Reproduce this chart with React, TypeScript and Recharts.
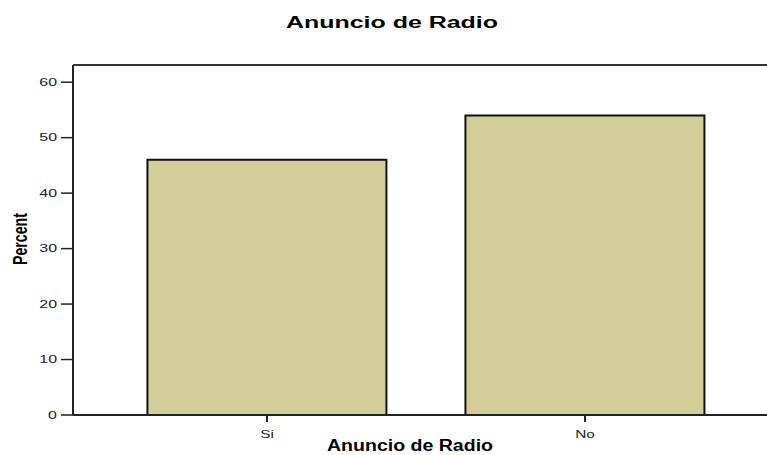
import { BarChart, Bar, XAxis, YAxis, ReferenceLine } from 'recharts';

// Frequencies for "Anuncio de Radio" (percent)
const categories = ['Si', 'No'];
const percents = [46, 54];
const yTicks = [0, 10, 20, 30, 40, 50, 60];
const yMax = 63.1;

const data = categories.map((name, i) => ({ name, percent: percents[i] }));

const FONT = '"Liberation Sans", Arial, sans-serif';

// tick labels in the original are stretched sideways, so scale them
const YTick = (props: any) => {
  const { x, y, payload } = props;
  return (
    <text
      x={0}
      y={0}
      transform={`translate(${x}, ${y}) scale(1.45, 1)`}
      textAnchor="end"
      dominantBaseline="central"
      fontFamily={FONT}
      fontSize={11}
      fill="#222"
    >
      {payload.value}
    </text>
  );
};

const XTick = (props: any) => {
  const { x, y, payload } = props;
  return (
    <text
      x={0}
      y={0}
      transform={`translate(${x}, ${y + 8}) scale(1.4, 1)`}
      textAnchor="middle"
      dominantBaseline="central"
      fontFamily={FONT}
      fontSize={11}
      fill="#222"
    >
      {payload.value}
    </text>
  );
};

export default function App() {
  return (
    <div style={{ position: 'fixed', left: 0, top: 0, width: 767, height: 455, overflow: 'hidden', background: '#fff' }}>
      <BarChart
        width={790}
        height={455}
        data={data}
        margin={{ top: 65, right: 11, bottom: 10, left: 0 }}
        barCategoryGap="12.4%"
      >
        <XAxis
          dataKey="name"
          height={30}
          padding={{ left: 35, right: 35 }}
          axisLine={{ stroke: '#222', strokeWidth: 2 }}
          tickLine={{ stroke: '#222', strokeWidth: 2 }}
          tickSize={7}
          tickMargin={4}
          tick={<XTick />}
        />
        <YAxis
          width={73}
          domain={[0, yMax]}
          ticks={yTicks}
          allowDataOverflow
          axisLine={{ stroke: '#222', strokeWidth: 2 }}
          tickLine={{ stroke: '#222', strokeWidth: 1.5 }}
          tickSize={12}
          tickMargin={4}
          tick={<YTick />}
        />
        <Bar
          dataKey="percent"
          fill="#d3ce98"
          stroke="#111"
          strokeWidth={2}
          isAnimationActive={false}
        />
        {/* top edge of the plot frame */}
        <ReferenceLine y={yMax} stroke="#333" strokeWidth={2} ifOverflow="visible" />
      </BarChart>
      <svg width={767} height={455} style={{ position: 'absolute', left: 0, top: 0, pointerEvents: 'none' }}>
        <text x={392} y={28} textAnchor="middle" textLength={212} lengthAdjust="spacingAndGlyphs" fontFamily={FONT} fontWeight="bold" fontSize={16} fill="#000">
          Anuncio de Radio
        </text>
        <text x={410} y={451} textAnchor="middle" textLength={166} lengthAdjust="spacingAndGlyphs" fontFamily={FONT} fontWeight="bold" fontSize={16} fill="#000">
          Anuncio de Radio
        </text>
        <text
          x={0}
          y={0}
          transform="translate(27, 239) rotate(-90)"
          textAnchor="middle"
          textLength={52}
          lengthAdjust="spacingAndGlyphs"
          fontFamily={FONT}
          fontWeight="bold"
          fontSize={20}
          fill="#000"
        >
          Percent
        </text>
      </svg>
    </div>
  );
}
